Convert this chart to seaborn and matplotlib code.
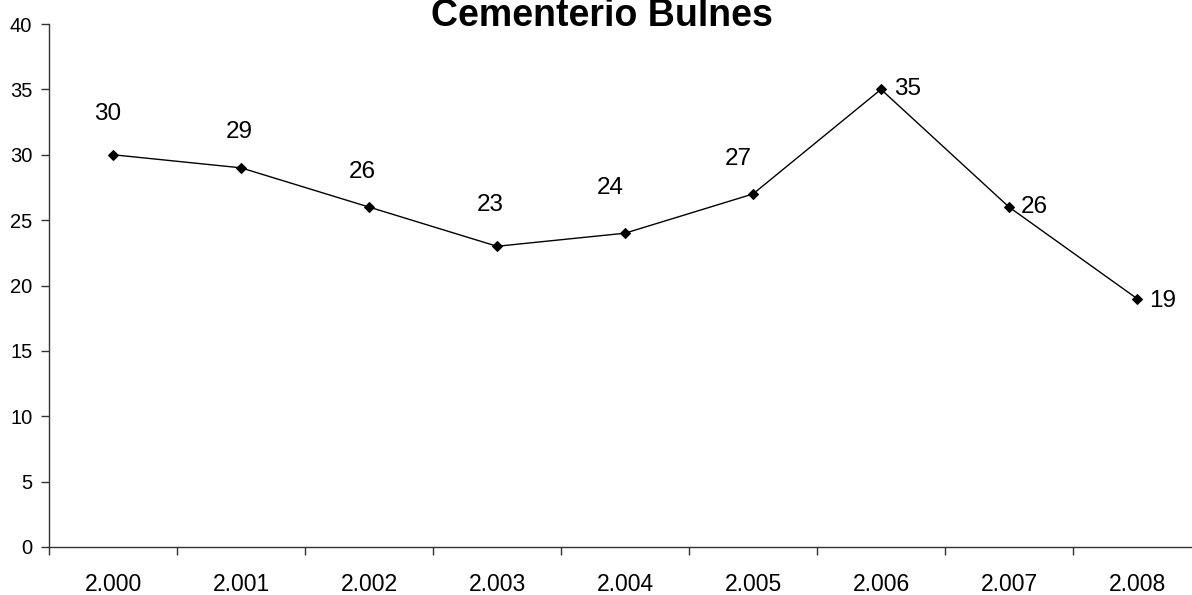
import pandas as pd
import matplotlib
matplotlib.use('Agg')
import matplotlib.pyplot as plt
import seaborn as sns

#---------------------------------------------------------
years=['2.000', '2.001', '2.002', '2.003', '2.004', '2.005', '2.006', '2.007', '2.008']
values=[30, 29, 26, 23, 24, 27, 35, 26, 19]
title='Cementerio Bulnes'
yticks=[0, 5, 10, 15, 20, 25, 30, 35, 40]

#label offsets in pixels (dx, dy), Excel-like placement
lbl_off=[(-5, 41), (-2, 36), (-7, 35), (-7, 41), (-15, 45), (-15, 35), (27, 0), (25, 0), (26, -2)]

#--------------------------------------------------------
sns.set_style('white')
plt.rcParams['font.family']=['Liberation Sans', 'DejaVu Sans']
plt.rcParams['text.color']='black'
plt.rcParams['xtick.labelcolor']='black'
plt.rcParams['ytick.labelcolor']='black'

df=pd.DataFrame({'year': years, 'n': values})

fig=plt.figure(figsize=(11.92, 5.95), dpi=100)
ax=fig.add_axes([49/1192, 48/595, 1152/1192, 523/595])
sns.lineplot(x='year', y='n', data=df, ax=ax, color='black', linewidth=1,
	marker='D', markersize=5, markeredgecolor='black', sort=False)

#labels
for i, (yr, v) in enumerate(zip(years, values)):
	dx, dy=lbl_off[i]
	ax.annotate(str(v), (i, v), xytext=(dx, dy), textcoords='offset pixels',
		ha='center', va='center', fontsize=17.5, color='black')

#axes
ax.set_xlim(-0.5, len(years)-0.5)
ax.set_ylim(0, 40)
ax.set_yticks(yticks)
ax.set_xticks(range(len(years)))
ax.set_xticklabels(years, fontsize=16.5)
ax.set_xticks([i+0.5 for i in range(-1, len(years))], minor=True)
ax.tick_params(axis='x', which='major', length=0, pad=19, labelcolor='black')
ax.tick_params(axis='x', which='minor', length=6, width=1, color='#333333', direction='out', bottom=True)
ax.tick_params(axis='y', which='major', length=6, width=1, color='#333333', direction='out', left=True,
	labelsize=14.5, pad=6, labelcolor='black')
ax.set_xlabel('')
ax.set_ylabel('')
sns.despine(ax=ax)
for s in ['left', 'bottom']:
	ax.spines[s].set_color('#333333')
	ax.spines[s].set_linewidth(1)

fig.text(602/1192, 1-26/595, title, ha='center', va='baseline', fontsize=27, weight='bold', color='black')

plt.savefig('out.png', dpi=100)
plt.close()
